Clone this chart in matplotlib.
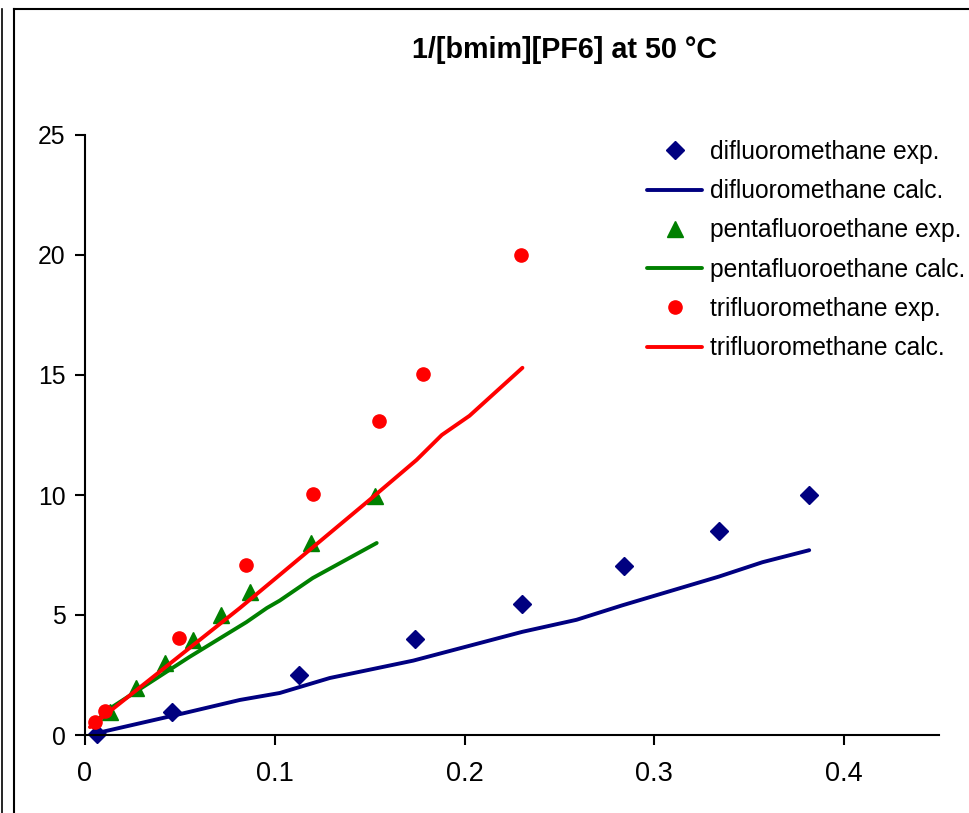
#!/usr/bin/env python3
import matplotlib
matplotlib.use('Agg')
import matplotlib.pyplot as plt
from matplotlib.lines import Line2D

plt.rcParams['font.family'] = ['Liberation Sans', 'DejaVu Sans']

# difluoromethane
di_exp_x = [0.0063, 0.046, 0.113, 0.174, 0.2305, 0.284, 0.334, 0.3816]
di_exp_y = [0.04, 0.96, 2.5, 4.0, 5.46, 7.04, 8.5, 10.0]
di_calc_x = [0.0063, 0.0516, 0.0816, 0.1026, 0.129, 0.173, 0.2305, 0.259, 0.283, 0.334, 0.357, 0.3816]
di_calc_y = [0.08, 0.9, 1.46, 1.75, 2.375, 3.1, 4.3, 4.8, 5.4, 6.6, 7.2, 7.7]

# pentafluoroethane
penta_exp_x = [0.013, 0.027, 0.042, 0.057, 0.0716, 0.087, 0.119, 0.153]
penta_exp_y = [0.96, 1.96, 3.0, 3.96, 5.0, 5.96, 8.0, 9.96]
penta_calc_x = [0.006, 0.0095, 0.055, 0.085, 0.0958, 0.1026, 0.12, 0.1537]
penta_calc_y = [0.4, 0.92, 3.25, 4.7, 5.29, 5.6, 6.54, 8.0]

# trifluoromethane
tri_exp_x = [0.0053, 0.0105, 0.0495, 0.085, 0.12, 0.155, 0.178, 0.230]
tri_exp_y = [0.54, 1.0, 4.04, 7.08, 10.04, 13.08, 15.04, 20.0]
tri_calc_x = [0.0026, 0.0816, 0.1026, 0.15, 0.1747, 0.188, 0.2026, 0.2305]
tri_calc_y = [0.33, 5.29, 6.67, 9.8, 11.46, 12.5, 13.3, 15.3]

fig = plt.figure(figsize=(9.7, 8.13), dpi=100)
ax = fig.add_axes([85 / 970, 1 - 735 / 813, (939 - 85) / 970, 600 / 813])

ax.plot(di_exp_x, di_exp_y, 'D', color='#000080', markersize=9.5, label='difluoromethane exp.', clip_on=False)
ax.plot(di_calc_x, di_calc_y, '-', color='#000080', linewidth=2.8, solid_capstyle='round',
        label='difluoromethane calc.')
ax.plot(penta_exp_x, penta_exp_y, '^', color='#008000', markersize=11, label='pentafluoroethane exp.', clip_on=False)
ax.plot(penta_calc_x, penta_calc_y, '-', color='#008000', linewidth=2.8, solid_capstyle='round',
        label='pentafluoroethane calc.')
ax.plot(tri_exp_x, tri_exp_y, 'o', color='#FF0000', markersize=9.5, label='trifluoromethane exp.', clip_on=False)
ax.plot(tri_calc_x, tri_calc_y, '-', color='#FF0000', linewidth=2.8, solid_capstyle='round',
        label='trifluoromethane calc.')

ax.set_xlim(0, 0.45)
ax.set_ylim(0, 25)
ax.set_xticks([0, 0.1, 0.2, 0.3, 0.4])
ax.set_xticklabels(['0', '0.1', '0.2', '0.3', '0.4'])
ax.set_yticks([0, 5, 10, 15, 20, 25])
ax.spines['top'].set_visible(False)
ax.spines['right'].set_visible(False)
ax.spines['left'].set_linewidth(1.5)
ax.spines['bottom'].set_linewidth(1.5)
ax.tick_params(direction='out', length=7, width=1.5, labelsize=17.8)
ax.tick_params(axis='y', pad=7)
ax.tick_params(axis='x', pad=12)
for lab in ax.get_xticklabels():
    lab.set_family(['Liberation Sans Narrow', 'Liberation Sans'])
    lab.set_fontsize(19.5)

fig.text(564 / 970, 1 - 50 / 813, '1/[bmim][PF6] at 50 °C', ha='center', va='center',
         fontsize=20.7, fontweight='bold')

handles, labels = ax.get_legend_handles_labels()
fig.legend(handles, labels, loc='upper left', bbox_to_anchor=(647 / 970, 1 - 140 / 813),
           frameon=False, fontsize=17.7, handlelength=2.25, handletextpad=0.3,
           labelspacing=0.62, borderpad=0, borderaxespad=0)

# outer frame lines
fig.add_artist(Line2D([14 / 970, 14 / 970], [0, 1 - 9 / 813], transform=fig.transFigure, color='black', linewidth=1.5))
fig.add_artist(Line2D([14 / 970, 1], [1 - 9 / 813, 1 - 9 / 813], transform=fig.transFigure, color='black', linewidth=1.5))
fig.add_artist(Line2D([2.5 / 970, 2.5 / 970], [0, 1 - 9 / 813], transform=fig.transFigure, color='black', linewidth=1.2))

fig.savefig('out.png', dpi=100)
